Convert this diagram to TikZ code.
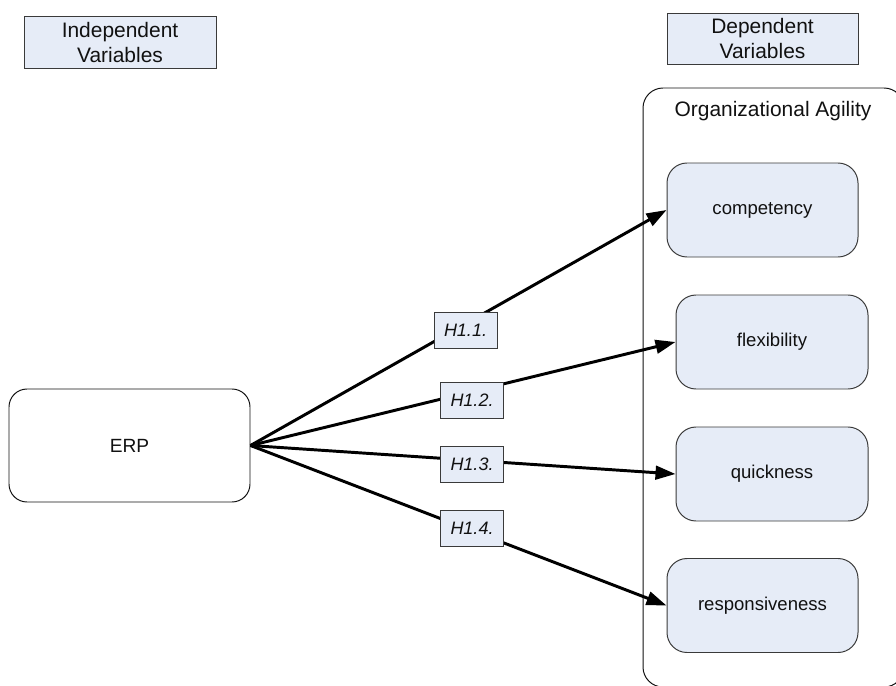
\documentclass[tikz,border=0pt]{standalone}
\usepackage{fontspec}
\setmainfont{Liberation Sans}
\usetikzlibrary{arrows.meta}
\definecolor{ink}{HTML}{111111}
\definecolor{frame}{HTML}{3A3A3A}
\definecolor{boxfill}{HTML}{E6ECF7}
\tikzset{
  heading/.style={draw=frame,fill=boxfill,line width=0.7pt,minimum width=4.8cm,minimum height=1.3cm,align=center,inner sep=1pt,font=\fontsize{14.9}{17.8}\selectfont},
  factor/.style={draw=frame,fill=boxfill,line width=0.7pt,rounded corners=0.5cm,minimum width=4.8cm,minimum height=2.35cm,align=center,font=\fontsize{13.2}{16}\selectfont},
  source/.style={draw=ink,fill=white,line width=0.7pt,rounded corners=0.45cm,minimum width=6.025cm,minimum height=2.825cm,font=\fontsize{13.6}{16}\selectfont},
  hyp/.style={draw=frame,fill=boxfill,line width=0.7pt,minimum width=1.575cm,minimum height=0.9cm,inner sep=1pt,font=\fontsize{12.8}{15}\selectfont\itshape},
  link/.style={-{Triangle[length=5mm,width=3.4mm]},draw=black,line width=2.1pt}
}
\begin{document}
\begin{tikzpicture}[text=ink]
  \useasboundingbox (0,0) rectangle (22.4,-17.15);

  % group frame, runs past the right and bottom edges
  \begin{scope}
    \clip (0,0) rectangle (22.4,-17.15);
    \draw[draw=ink,line width=0.7pt,rounded corners=0.5cm]
      (16.075,-2.2) rectangle (22.6,-17.175);
  \end{scope}

  \node[heading] (indep) at (3.0,-1.0625) {Independent\\Variables};
  \node[heading,minimum width=4.775cm,minimum height=1.275cm] (dep) at (19.0625,-0.9625) {Dependent\\Variables};
  \node[font=\fontsize{14.9}{17}\selectfont] (agility) at (19.325,-2.775) {Organizational Agility};

  \node[source] (erp) at (3.2375,-11.1375) {ERP};

  \node[factor,minimum width=4.775cm] (competency) at (19.0625,-5.25) {competency};
  \node[factor] (flexibility) at (19.3,-8.55) {flexibility};
  \node[factor] (quickness) at (19.3,-11.85) {quickness};
  \node[factor,minimum width=4.775cm] (responsiveness) at (19.0625,-15.1375) {responsiveness};

  \draw[link] (erp.east) -- (competency.west);
  \draw[link] (erp.east) -- (flexibility.west);
  \draw[link] (erp.east) -- (quickness.west);
  \draw[link] (erp.east) -- (responsiveness.west);

  \node[hyp] (h11) at (11.6375,-8.25) {H1.1.};
  \node[hyp] (h12) at (11.8,-10.0) {H1.2.};
  \node[hyp] (h13) at (11.8,-11.6) {H1.3.};
  \node[hyp] (h14) at (11.8,-13.2) {H1.4.};
\end{tikzpicture}
\end{document}
